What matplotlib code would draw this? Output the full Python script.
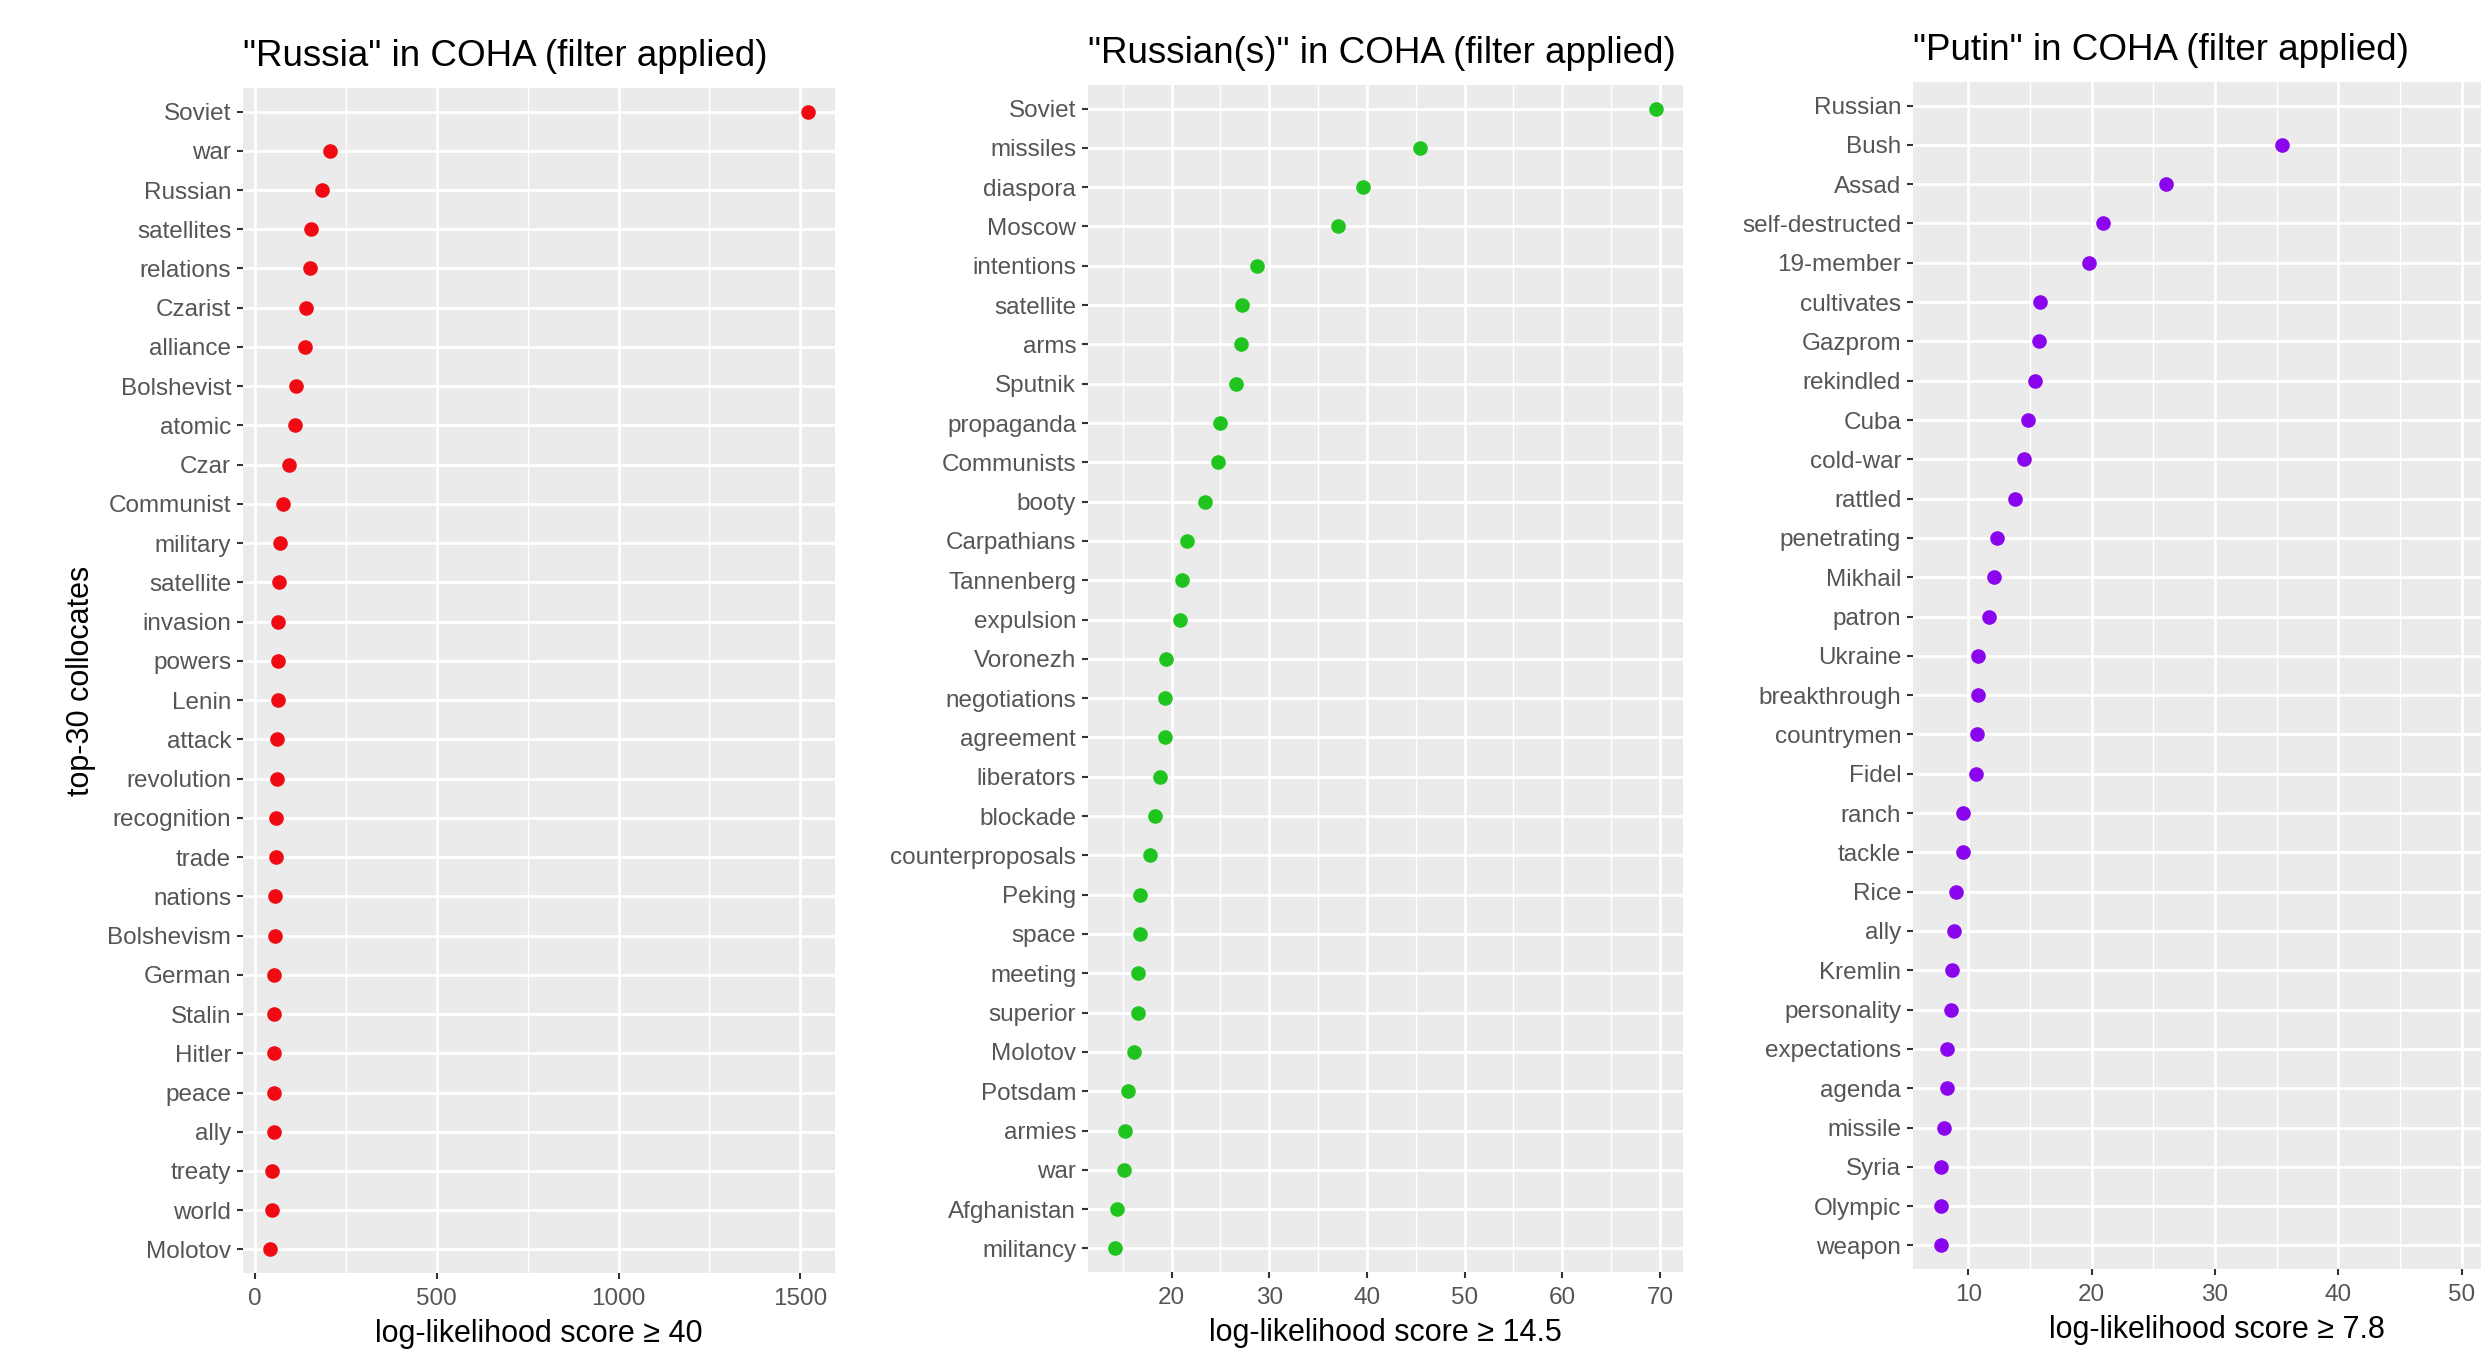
import numpy as np
from matplotlib import pyplot as plt
from matplotlib.ticker import MultipleLocator

plt.rcParams['font.family'] = ['Liberation Sans', 'DejaVu Sans']

# "Russia" panel
russia_words = ["Soviet", "war", "Russian", "satellites", "relations", "Czarist", "alliance",
                "Bolshevist", "atomic", "Czar", "Communist", "military", "satellite", "invasion",
                "powers", "Lenin", "attack", "revolution", "recognition", "trade", "nations",
                "Bolshevism", "German", "Stalin", "Hitler", "peace", "ally", "treaty", "world",
                "Molotov"]
russia_scores = [1521, 207, 185, 156, 153, 141, 138, 113, 110, 95, 79, 71, 67, 65, 65, 64, 62,
                 61, 60, 58, 57, 55, 54, 54, 52, 52, 52, 49, 48, 42]

# "Russian(s)" panel
russians_words = ["Soviet", "missiles", "diaspora", "Moscow", "intentions", "satellite", "arms",
                  "Sputnik", "propaganda", "Communists", "booty", "Carpathians", "Tannenberg",
                  "expulsion", "Voronezh", "negotiations", "agreement", "liberators", "blockade",
                  "counterproposals", "Peking", "space", "meeting", "superior", "Molotov",
                  "Potsdam", "armies", "war", "Afghanistan", "militancy"]
russians_scores = [69.6, 45.4, 39.6, 37.0, 28.7, 27.2, 27.1, 26.6, 25.0, 24.7, 23.4, 21.6, 21.1,
                   20.9, 19.4, 19.3, 19.3, 18.8, 18.3, 17.8, 16.8, 16.8, 16.6, 16.5, 16.1, 15.5,
                   15.2, 15.1, 14.4, 14.2]

# "Putin" panel (Russian is off the visible area)
putin_words = ["Russian", "Bush", "Assad", "self-destructed", "19-member", "cultivates", "Gazprom",
               "rekindled", "Cuba", "cold-war", "rattled", "penetrating", "Mikhail", "patron",
               "Ukraine", "breakthrough", "countrymen", "Fidel", "ranch", "tackle", "Rice", "ally",
               "Kremlin", "personality", "expectations", "agenda", "missile", "Syria", "Olympic",
               "weapon"]
putin_scores = [52.5, 35.4, 26.0, 20.9, 19.8, 15.8, 15.7, 15.4, 14.8, 14.5, 13.8, 12.3, 12.1, 11.7,
                10.8, 10.8, 10.7, 10.6, 9.6, 9.6, 9.0, 8.8, 8.7, 8.6, 8.3, 8.3, 8.0, 7.8, 7.8, 7.75]

titles = ['"Russia" in COHA (filter applied)', '"Russian(s)" in COHA (filter applied)',
          '"Putin" in COHA (filter applied)']
xlabels = ["log-likelihood score \u2265 40", "log-likelihood score \u2265 14.5",
           "log-likelihood score \u2265 7.8"]
colors = ["#F00A12", "#1FC41F", "#8A05EE"]
major = [500, 10, 10]
minor = [250, 5, 5]

W, H = 2481, 1354
# panel boxes in pixels: left, top, right, bottom
boxes = [(243, 88, 835, 1273), (1088, 85, 1683, 1272), (1913, 82, 2520, 1269)]

fig = plt.figure(figsize=(W / 100, H / 100), dpi=100)

panels = [(russia_words, russia_scores), (russians_words, russians_scores),
          (putin_words, putin_scores)]

for i, (words, scores) in enumerate(panels):
    l, t, r, b = boxes[i]
    ax = fig.add_axes([l / W, (H - b) / H, (r - l) / W, (b - t) / H])
    ax.set_facecolor("#EBEBEB")
    y = np.arange(len(words))
    ax.scatter(scores, y, s=90, color=colors[i], zorder=3)
    lo, hi = min(scores), max(scores)
    pad = 0.05 * (hi - lo)
    ax.set_xlim(lo - pad, hi + pad)
    ax.set_ylim(len(words) - 0.4, -0.6)
    ax.set_yticks(y)
    ax.set_yticklabels(words)
    ax.xaxis.set_major_locator(MultipleLocator(major[i]))
    ax.xaxis.set_minor_locator(MultipleLocator(minor[i]))
    ax.grid(which="major", color="white", linewidth=2.0, zorder=0)
    ax.grid(which="minor", axis="x", color="white", linewidth=1.0, zorder=0)
    ax.set_axisbelow(True)
    for s in ax.spines.values():
        s.set_visible(False)
    ax.tick_params(which="major", length=4.5, width=1.5, color="#333333",
                   labelcolor="#555555", labelsize=17.5)
    ax.tick_params(axis="y", pad=4)
    ax.tick_params(axis="x", pad=6)
    ax.tick_params(which="minor", length=0)
    ax.set_title(titles[i], loc="left", fontsize=26.5, pad=16, color="black")
    ax.set_xlabel(xlabels[i], fontsize=22, labelpad=7)
    if i == 0:
        ax.set_ylabel("top-30 collocates", fontsize=22, labelpad=8)

fig.savefig("out.png", dpi=100)
